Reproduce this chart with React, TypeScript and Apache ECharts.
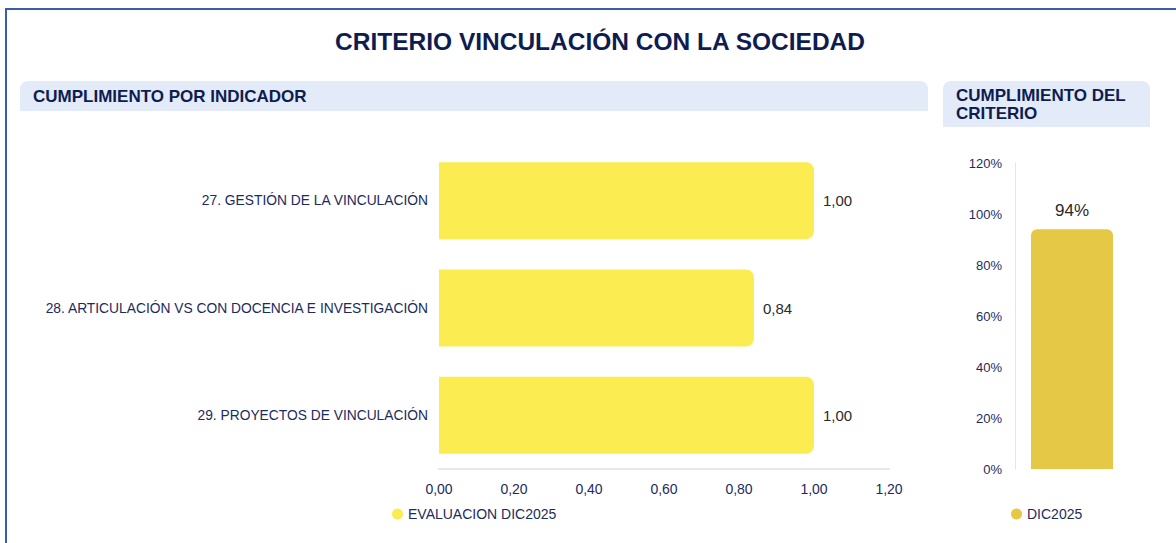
import React, { useEffect, useRef } from "react";
import * as echarts from "echarts";

const indicators = [
  "27. GESTIÓN DE LA VINCULACIÓN",
  "28. ARTICULACIÓN VS CON DOCENCIA E INVESTIGACIÓN",
  "29. PROYECTOS DE VINCULACIÓN",
];
const evaluacion = [1.0, 0.84, 1.0];
const criterioCategories = ["DIC2025"];
const criterioValues = [0.94];

const NAVY = "#1c2b5e";
const FONT = "'Liberation Sans', Arial, Helvetica, sans-serif";

export default function App() {
  const ref = useRef<HTMLDivElement>(null);
  useEffect(() => {
    document.body.style.margin = "0";
    const chart = echarts.init(ref.current!, null, { renderer: "svg" });
    chart.setOption({
      animation: false,
      textStyle: { fontFamily: FONT },
      graphic: [
        {
          type: "rect",
          shape: { x: 6, y: 9, width: 1300, height: 700 },
          style: { fill: "none", stroke: "#3a5ea8", lineWidth: 2 },
          z: 0,
        },
        {
          type: "rect",
          shape: { x: 20, y: 81, width: 908, height: 30, r: [8, 8, 0, 0] },
          style: { fill: "#e3eaf8" },
          z: 0,
        },
        {
          type: "rect",
          shape: { x: 943, y: 81, width: 207, height: 46, r: [8, 8, 0, 0] },
          style: { fill: "#e3eaf8" },
          z: 0,
        },
        {
          type: "text",
          x: 600,
          y: 41,
          style: {
            text: "CRITERIO VINCULACIÓN CON LA SOCIEDAD",
            fill: "#0e1c50",
            font: `bold 24.5px ${FONT}`,
            align: "center",
            verticalAlign: "middle",
          },
        },
        {
          type: "text",
          x: 33,
          y: 96,
          style: {
            text: "CUMPLIMIENTO POR INDICADOR",
            fill: "#0e1c50",
            font: `bold 17px ${FONT}`,
            verticalAlign: "middle",
          },
        },
        {
          type: "text",
          x: 956,
          y: 86,
          style: {
            text: "CUMPLIMIENTO DEL\nCRITERIO",
            fill: "#0e1c50",
            font: `bold 17px ${FONT}`,
            lineHeight: 18,
            verticalAlign: "top",
          },
        },
      ],
      legend: [
        {
          data: ["EVALUACION DIC2025"],
          left: 387,
          top: 502,
          icon: "circle",
          itemWidth: 11,
          itemHeight: 11,
          itemGap: 6,
          textStyle: { color: NAVY, fontSize: 14, fontFamily: FONT },
        },
        {
          data: ["DIC2025"],
          left: 1006,
          top: 502,
          icon: "circle",
          itemWidth: 11,
          itemHeight: 11,
          textStyle: { color: NAVY, fontSize: 14, fontFamily: FONT },
        },
      ],
      grid: [
        { left: 439, top: 147, width: 450, height: 322 },
        { left: 1015, top: 163, width: 114, height: 306 },
      ],
      xAxis: [
        {
          type: "value",
          gridIndex: 0,
          min: 0,
          max: 1.2,
          interval: 0.2,
          axisLine: { show: true, lineStyle: { color: "#e8e8e8", width: 2 } },
          axisTick: { show: false },
          splitLine: { show: false },
          axisLabel: {
            color: NAVY,
            fontSize: 14,
            margin: 13,
            formatter: (v: number) => v.toFixed(2).replace(".", ","),
          },
        },
        {
          type: "category",
          gridIndex: 1,
          data: criterioCategories,
          axisLine: { show: false },
          axisTick: { show: false },
          axisLabel: { show: false },
        },
      ],
      yAxis: [
        {
          type: "category",
          gridIndex: 0,
          inverse: true,
          data: indicators,
          axisLine: { show: false },
          axisTick: { show: false },
          axisLabel: { color: NAVY, fontSize: 13.8, margin: 11 },
        },
        {
          type: "value",
          gridIndex: 1,
          min: 0,
          max: 1.2,
          interval: 0.2,
          axisLine: { show: true, lineStyle: { color: "#e6e6e6" } },
          axisTick: { show: false },
          splitLine: { show: false },
          axisLabel: {
            color: NAVY,
            fontSize: 13,
            margin: 13,
            formatter: (v: number) => `${Math.round(v * 100)}%`,
          },
        },
      ],
      series: [
        {
          name: "EVALUACION DIC2025",
          type: "bar",
          xAxisIndex: 0,
          yAxisIndex: 0,
          data: evaluacion,
          barWidth: 77,
          itemStyle: { color: "#fbec52", borderRadius: [0, 8, 8, 0] },
          label: {
            show: true,
            position: "right",
            distance: 9,
            color: "#2a2a2a",
            fontSize: 15,
            formatter: (p: any) => p.value.toFixed(2).replace(".", ","),
          },
        },
        {
          name: "DIC2025",
          type: "bar",
          xAxisIndex: 1,
          yAxisIndex: 1,
          data: criterioValues,
          barWidth: 82,
          itemStyle: { color: "#e5c845", borderRadius: [6, 6, 0, 0] },
          label: {
            show: true,
            position: "top",
            distance: 10,
            color: "#2a2a2a",
            fontSize: 17,
            formatter: (p: any) => `${Math.round(p.value * 100)}%`,
          },
        },
      ],
    });
    return () => chart.dispose();
  }, []);
  return (
    <div
      ref={ref}
      style={{ position: "absolute", left: 0, top: 0, width: 1176, height: 543, background: "#fff" }}
    />
  );
}
